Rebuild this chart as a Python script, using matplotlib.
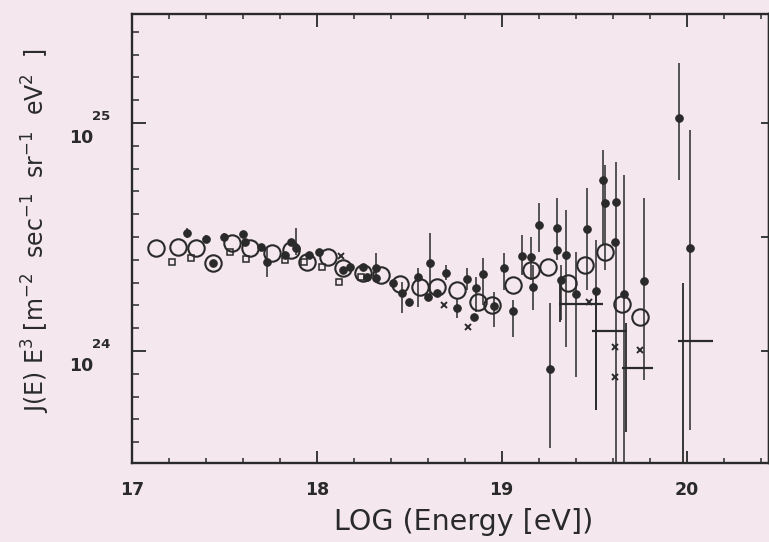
import numpy as np
import matplotlib
matplotlib.use("Agg")
import matplotlib.pyplot as plt
from matplotlib.ticker import FixedLocator, NullFormatter

plt.rcParams['font.family'] = ['DejaVu Sans']
plt.rcParams['mathtext.default'] = 'regular'

# ---------------- data (x: log10 E [eV], y: J(E)E^3 in units of 1e24) -------------
circ_x = [17.13, 17.25, 17.35, 17.44, 17.54, 17.64, 17.76, 17.86, 17.95, 18.06,
          18.14, 18.25, 18.35, 18.45, 18.56, 18.65, 18.76, 18.87, 18.95, 19.06,
          19.16, 19.25, 19.36, 19.45, 19.56, 19.65, 19.75]
circ_y = [2.83, 2.86, 2.83, 2.44, 2.98, 2.83, 2.69, 2.77, 2.45, 2.58,
          2.31, 2.20, 2.15, 1.97, 1.91, 1.91, 1.85, 1.64, 1.59, 1.95,
          2.26, 2.33, 1.99, 2.38, 2.72, 1.61, 1.41]

sq_x = [17.22, 17.32, 17.53, 17.62, 17.83, 17.93, 18.03, 18.12, 18.24]
sq_y = [2.45, 2.56, 2.72, 2.54, 2.51, 2.45, 2.33, 2.01, 2.11]

xm_x = [18.13, 18.69, 18.82, 19.47, 19.61, 19.61, 19.75]
xm_y = [2.61, 1.59, 1.27, 1.64, 1.04, 0.77, 1.01]

dot_x = [17.30, 17.40, 17.44, 17.50, 17.60, 17.61, 17.70, 17.73, 17.86, 17.89,
         17.83, 17.96, 18.01, 18.14, 18.18, 18.25, 18.27, 18.32, 18.32, 18.41,
         18.46, 18.50, 18.55, 18.61, 18.60, 18.65, 18.70, 18.76, 18.81, 18.86,
         18.85, 18.90, 18.96, 19.01, 19.06, 19.11, 19.16, 19.17, 19.20, 19.26,
         19.30, 19.30, 19.32, 19.35, 19.40, 19.46, 19.51, 19.55, 19.56, 19.62,
         19.61, 19.66, 19.77, 19.96, 20.02]
dot_y = [3.30, 3.10, 2.43, 3.16, 3.26, 3.01, 2.86, 2.45, 3.01, 2.83,
         2.64, 2.64, 2.72, 2.26, 2.33, 2.33, 2.11, 2.31, 2.09, 1.99,
         1.80, 1.64, 2.11, 2.43, 1.73, 1.80, 2.20, 1.55, 2.07, 1.89,
         1.41, 2.18, 1.57, 2.31, 1.50, 2.61, 2.58, 1.91, 3.57, 0.83,
         2.77, 3.46, 2.05, 2.64, 1.78, 3.43, 1.83, 5.62, 4.46, 4.51,
         3.01, 1.78, 2.03, 10.5, 2.83]
dot_lo = [3.13, 2.98, 2.43, 3.03, 3.26, 3.01, 2.86, 2.11, 3.01, 2.64,
          2.64, 2.64, 2.72, 2.26, 2.33, 2.33, 2.11, 2.05, 2.09, 1.99,
          1.47, 1.64, 1.56, 1.76, 1.73, 1.80, 2.05, 1.40, 1.85, 1.48,
          1.41, 1.59, 1.27, 1.85, 1.15, 2.15, 2.05, 1.51, 2.72, 0.376,
          2.77, 2.51, 1.37, 1.04, 0.77, 1.85, 0.55, 2.92, 2.26, 0.20,
          3.01, 0.20, 0.75, 5.62, 0.45]
dot_hi = [3.46, 3.23, 2.43, 3.30, 3.26, 3.01, 2.86, 2.83, 3.01, 3.46,
          2.64, 2.64, 2.72, 2.26, 2.33, 2.33, 2.11, 2.69, 2.09, 1.99,
          2.01, 1.64, 2.31, 3.30, 1.73, 1.80, 2.38, 1.71, 2.31, 2.11,
          1.41, 2.56, 1.82, 2.69, 1.67, 3.23, 3.16, 2.38, 4.46, 1.63,
          2.77, 4.69, 2.38, 4.15, 2.72, 5.19, 3.07, 7.62, 6.55, 6.75,
          3.01, 5.92, 4.69, 18.3, 9.31]

# binned points: vertical line position, bin edges, value, vertical extent
bin_x = [19.315, 19.51, 19.67, 19.98]
bin_left = [19.31, 19.49, 19.65, 19.955]
bin_right = [19.545, 19.68, 19.82, 20.14]
bin_y = [1.61, 1.22, 0.84, 1.11]
bin_lo = [1.34, 0.55, 0.44, 0.20]
bin_hi = [2.05, 1.85, 1.33, 1.99]

xticks_major = [17, 18, 19, 20]
xtick_labels = ['17', '18', '19', '20']
ytick_major_exp = [24, 25]

# ---------------- style -------------
BG = '#f4e8ee'
INK = '#2a2a2a'
U = 1e24

fig = plt.figure(figsize=(7.69, 5.42), dpi=100)
fig.patch.set_facecolor(BG)
ax = fig.add_axes([0.17126, 0.14576, 0.82874, 0.82933])
ax.set_facecolor(BG)
ax.set_yscale('log')
ax.set_xlim(17, 20.445)
ax.set_ylim(10 ** 23.509, 10 ** 25.48)


def s(v):
    return np.asarray(v) * U


# error bars of filled dots
ax.vlines(dot_x, s(dot_lo), s(dot_hi), color=INK, lw=1.1, zorder=2)
# binned crosses
ax.hlines(s(bin_y), bin_left, bin_right, color=INK, lw=1.6, zorder=2)
ax.vlines(bin_x, s(bin_lo), s(bin_hi), color=INK, lw=1.3, zorder=2)

ax.plot(dot_x, s(dot_y), 'o', ms=5.4, mfc=INK, mec=INK, mew=0.8, ls='none', zorder=3)
ax.plot(circ_x, s(circ_y), 'o', ms=11.8, mfc='none', mec=INK, mew=1.5, ls='none', zorder=4)
ax.plot(sq_x, s(sq_y), 's', ms=4.0, mfc='none', mec=INK, mew=1.1, ls='none', zorder=4)
ax.plot(xm_x, s(xm_y), 'x', ms=4.0, mec=INK, mew=1.4, ls='none', zorder=4)

# spines
for sp in ax.spines.values():
    sp.set_color(INK)
    sp.set_linewidth(1.7)

# x ticks
ax.xaxis.set_major_locator(FixedLocator(xticks_major))
ax.set_xticklabels(xtick_labels, fontsize=12.5, fontweight='bold', color=INK)
ax.xaxis.set_minor_locator(FixedLocator(np.arange(17, 20.45, 0.2)))
ax.tick_params(axis='x', which='major', direction='in', length=9, width=1.3,
               top=True, pad=13, colors=INK)
ax.tick_params(axis='x', which='minor', direction='in', length=3.5, width=1.1,
               top=True, colors=INK)

# y ticks
ax.yaxis.set_major_locator(FixedLocator([10.0 ** e for e in ytick_major_exp]))
ax.yaxis.set_major_formatter(NullFormatter())
ax.yaxis.set_minor_locator(FixedLocator(10 ** np.arange(23.5, 25.5, 0.1)))
ax.yaxis.set_minor_formatter(NullFormatter())
ax.tick_params(axis='y', which='major', direction='in', length=10, width=1.3,
               right=False, colors=INK)
ax.tick_params(axis='y', which='minor', direction='in', length=4.7, width=1.1,
               right=False, colors=INK)

sec = ax.secondary_yaxis('right')
sec.set_yscale('log')
sec.yaxis.set_major_locator(FixedLocator([1e24, 10 ** 24.5, 1e25]))
sec.yaxis.set_major_formatter(NullFormatter())
sec.yaxis.set_minor_locator(FixedLocator([]))
sec.tick_params(axis='y', which='major', direction='in', length=6, width=1.3, colors=INK)
sec.spines['right'].set_linewidth(1.7)
sec.spines['right'].set_color(INK)

# y tick labels as 10 with raised exponent
ytr = ax.get_yaxis_transform()
for e in ytick_major_exp:
    ax.annotate('10', xy=(0, 10.0 ** e), xycoords=ytr, xytext=(-36.5, -10.8),
                textcoords='offset points', ha='center', va='center',
                fontsize=12.5, fontweight='bold', color=INK, annotation_clip=False)
    ax.annotate(str(e), xy=(0, 10.0 ** e), xycoords=ytr, xytext=(-21.7, 5.0),
                textcoords='offset points', ha='center', va='center',
                fontsize=9.5, fontweight='bold', color=INK, annotation_clip=False)

fig.text(0.6034, 0.0221, 'LOG (Energy [eV])', ha='center', va='baseline',
         fontsize=20.5, color=INK)
fig.text(0.047, 0.574,
         'J(E) E$^{3}$ [m$^{-2}$  sec$^{-1}$  sr$^{-1}$  eV$^{2}$  ]',
         rotation=90, ha='center', va='center', fontsize=17, color=INK)

fig.savefig('out.png', dpi=100, facecolor=BG)
